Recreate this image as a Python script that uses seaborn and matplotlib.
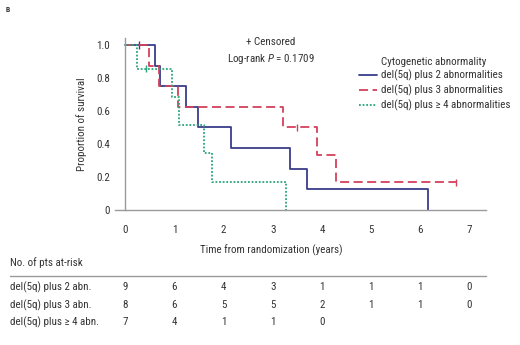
import numpy as np
import pandas as pd
import matplotlib
matplotlib.use("Agg")
import matplotlib.pyplot as plt
import seaborn as sns
from matplotlib.lines import Line2D

sns.set_style("white")
FONT = ["Roboto Condensed", "DejaVu Sans"]
plt.rcParams["font.family"] = FONT
plt.rcParams["mathtext.fontset"] = "custom"
plt.rcParams["mathtext.it"] = "Roboto Condensed:italic"
plt.rcParams["mathtext.rm"] = "Roboto Condensed"

# ---- data ----
groups = ["del(5q) plus 2 abnormalities",
          "del(5q) plus 3 abnormalities",
          "del(5q) plus \u2265 4 abnormalities"]
t_2abn = [0, 0.60, 0.70, 1.23, 1.48, 2.16, 3.35, 3.70, 6.15]
s_2abn = [1.0, 0.875, 0.75, 0.625, 0.5, 0.375, 0.25, 0.125, 0.0]
t_3abn = [0, 0.48, 0.69, 1.08, 3.20, 3.91, 4.29, 6.73]
s_3abn = [1.0, 0.875, 0.75, 0.625, 0.5, 0.333, 0.167, 0.167]
t_4abn = [0, 0.23, 0.96, 1.10, 1.60, 1.77, 3.26]
s_4abn = [1.0, 0.857, 0.686, 0.514, 0.343, 0.171, 0.0]

cens_t = [0.27, 3.49, 6.73, 0.43]
cens_s = [1.0, 0.5, 0.167, 0.857]
cens_g = [groups[0], groups[1], groups[1], groups[2]]

risk_times = [0, 1, 2, 3, 4, 5, 6, 7]
risk_labels = ["del(5q) plus 2 abn.", "del(5q) plus 3 abn.", "del(5q) plus \u2265 4 abn."]
risk_2abn = [9, 6, 4, 3, 1, 1, 1, 0]
risk_3abn = [8, 6, 5, 5, 2, 1, 1, 0]
risk_4abn = [7, 4, 1, 1, 0]

x_ticks = [0, 1, 2, 3, 4, 5, 6, 7]
y_ticks = [0, 0.2, 0.4, 0.6, 0.8, 1.0]
y_ticklabels = ["0", "0.2", "0.4", "0.6", "0.8", "1.0"]

# ---- styles ----
colors = {groups[0]: "#3a3d8a", groups[1]: "#d3415c", groups[2]: "#2aa57a"}
dashes = {groups[0]: "", groups[1]: (5, 2.5), groups[2]: (1, 1)}
GRAY = "#9a9a9a"
TXT = "#333333"
FS = 7.9

df = pd.concat([
    pd.DataFrame({"time": t, "surv": s, "group": g})
    for t, s, g in [(t_2abn, s_2abn, groups[0]),
                    (t_3abn, s_3abn, groups[1]),
                    (t_4abn, s_4abn, groups[2])]
], ignore_index=True)
cens = pd.DataFrame({"time": cens_t, "surv": cens_s, "group": cens_g})

fig = plt.figure(figsize=(5.2, 3.45), dpi=100)
ax = fig.add_axes([115/520, 1-210/345, 371/520, 172/345])

sns.lineplot(data=df, x="time", y="surv", hue="group", style="group",
             palette=colors, dashes=dashes, drawstyle="steps-post",
             estimator=None, sort=False, lw=1.3, legend=False, ax=ax)
sns.scatterplot(data=cens, x="time", y="surv", hue="group", palette=colors,
                marker="|", s=30, linewidth=1.0, legend=False, ax=ax)

ax.set_xlim(-0.21, 7.34)
ax.set_ylim(0, 1.042)
ax.spines["left"].set_position(("data", 0))
for sp in ["top", "right"]:
    ax.spines[sp].set_visible(False)
for sp in ["left", "bottom"]:
    ax.spines[sp].set_color(GRAY)
    ax.spines[sp].set_linewidth(1.0)
ax.set_xticks(x_ticks)
ax.set_yticks(y_ticks)
ax.set_yticklabels(y_ticklabels)
ax.tick_params(axis="both", direction="out", length=8, width=1.0, color=GRAY,
               labelsize=FS, labelcolor=TXT, pad=3)
ax.set_xlabel("Time from randomization (years)", fontsize=FS, color=TXT)
ax.xaxis.set_label_coords(0.42, -0.2)
ax.set_ylabel("Proportion of survival", fontsize=FS, color=TXT)
ax.yaxis.set_label_coords(-0.075, 0.5)

ax.text(0.42, 0.975, "+ Censored", transform=ax.transAxes, ha="center", va="center",
        fontsize=FS, color=TXT)
ax.text(0.42, 0.88, "Log-rank $\\mathit{P}$ = 0.1709", transform=ax.transAxes,
        ha="center", va="center", fontsize=FS, color=TXT)

# legend
handles = [Line2D([], [], color=colors[groups[0]], lw=1.3),
           Line2D([], [], color=colors[groups[1]], lw=1.3, dashes=dashes[groups[1]]),
           Line2D([], [], color=colors[groups[2]], lw=1.3, dashes=dashes[groups[2]])]
leg = ax.legend(handles, groups, loc="upper left", bbox_to_anchor=(0.658, 0.815),
                frameon=False, fontsize=FS, handlelength=1.6, handletextpad=0.4,
                labelspacing=0.3, borderaxespad=0, borderpad=0)
for t in leg.get_texts():
    t.set_color(TXT)
fig.text(381/520, 1-62/345, "Cytogenetic abnormality", ha="left", va="center",
         fontsize=FS, color=TXT)

# at-risk table
fig.text(10/520, 1-263/345, "No. of pts at-risk", ha="left", va="center",
         fontsize=FS, color=TXT)
fig.add_artist(Line2D([10/520, 486/520], [1-275.7/345]*2, color=GRAY, lw=1.0))
row_y = [287, 305, 322]
for lab, vals, yy in zip(risk_labels, [risk_2abn, risk_3abn, risk_4abn], row_y):
    fig.text(10/520, 1-yy/345, lab, ha="left", va="center", fontsize=FS, color=TXT)
    for tt, v in zip(risk_times, vals):
        xf = fig.transFigure.inverted().transform(ax.transData.transform((tt, 0)))[0]
        fig.text(xf, 1-yy/345, str(v), ha="center", va="center", fontsize=FS, color=TXT)

fig.text(6/520, 1-10/345, "B", ha="left", va="center", fontsize=5.5,
         fontweight="bold", color=TXT)

fig.savefig("out.png", dpi=100)
